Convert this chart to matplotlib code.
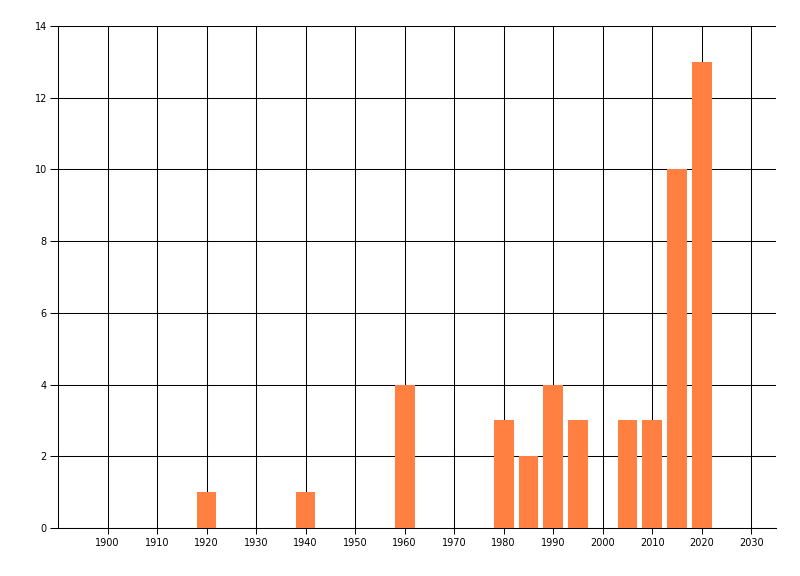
import matplotlib.pyplot as plt

years = [1920, 1940, 1960, 1980, 1985, 1990, 1995, 2005, 2010, 2015, 2020]
counts = [1, 1, 4, 3, 2, 4, 3, 3, 3, 10, 13]
x_ticks = list(range(1900, 2031, 10))
y_ticks = list(range(0, 15, 2))

plt.rcParams["font.family"] = ["DejaVu Sans"]

fig = plt.figure(figsize=(8, 5.76), dpi=100)
ax = fig.add_axes([0.0725, 0.0833, 0.8975, 0.8716])

ax.bar(years, counts, width=4, color="#FF8040", zorder=3)

ax.set_xlim(1890, 2035)
ax.set_ylim(0, 14)
ax.set_xticks(x_ticks)
ax.set_yticks(y_ticks)

# thin 1px black grid behind the bars
ax.grid(True, color="black", linewidth=0.75, zorder=0)
ax.set_axisbelow(True)

for side in ["top", "right"]:
    ax.spines[side].set_visible(False)
for side in ["left", "bottom"]:
    ax.spines[side].set_linewidth(0.75)

ax.tick_params(axis="y", length=6, width=0.75, labelsize=7, pad=2)
ax.tick_params(axis="x", length=4, width=0.75, labelsize=7, pad=3)

plt.savefig("out.png", dpi=100)
plt.close()
